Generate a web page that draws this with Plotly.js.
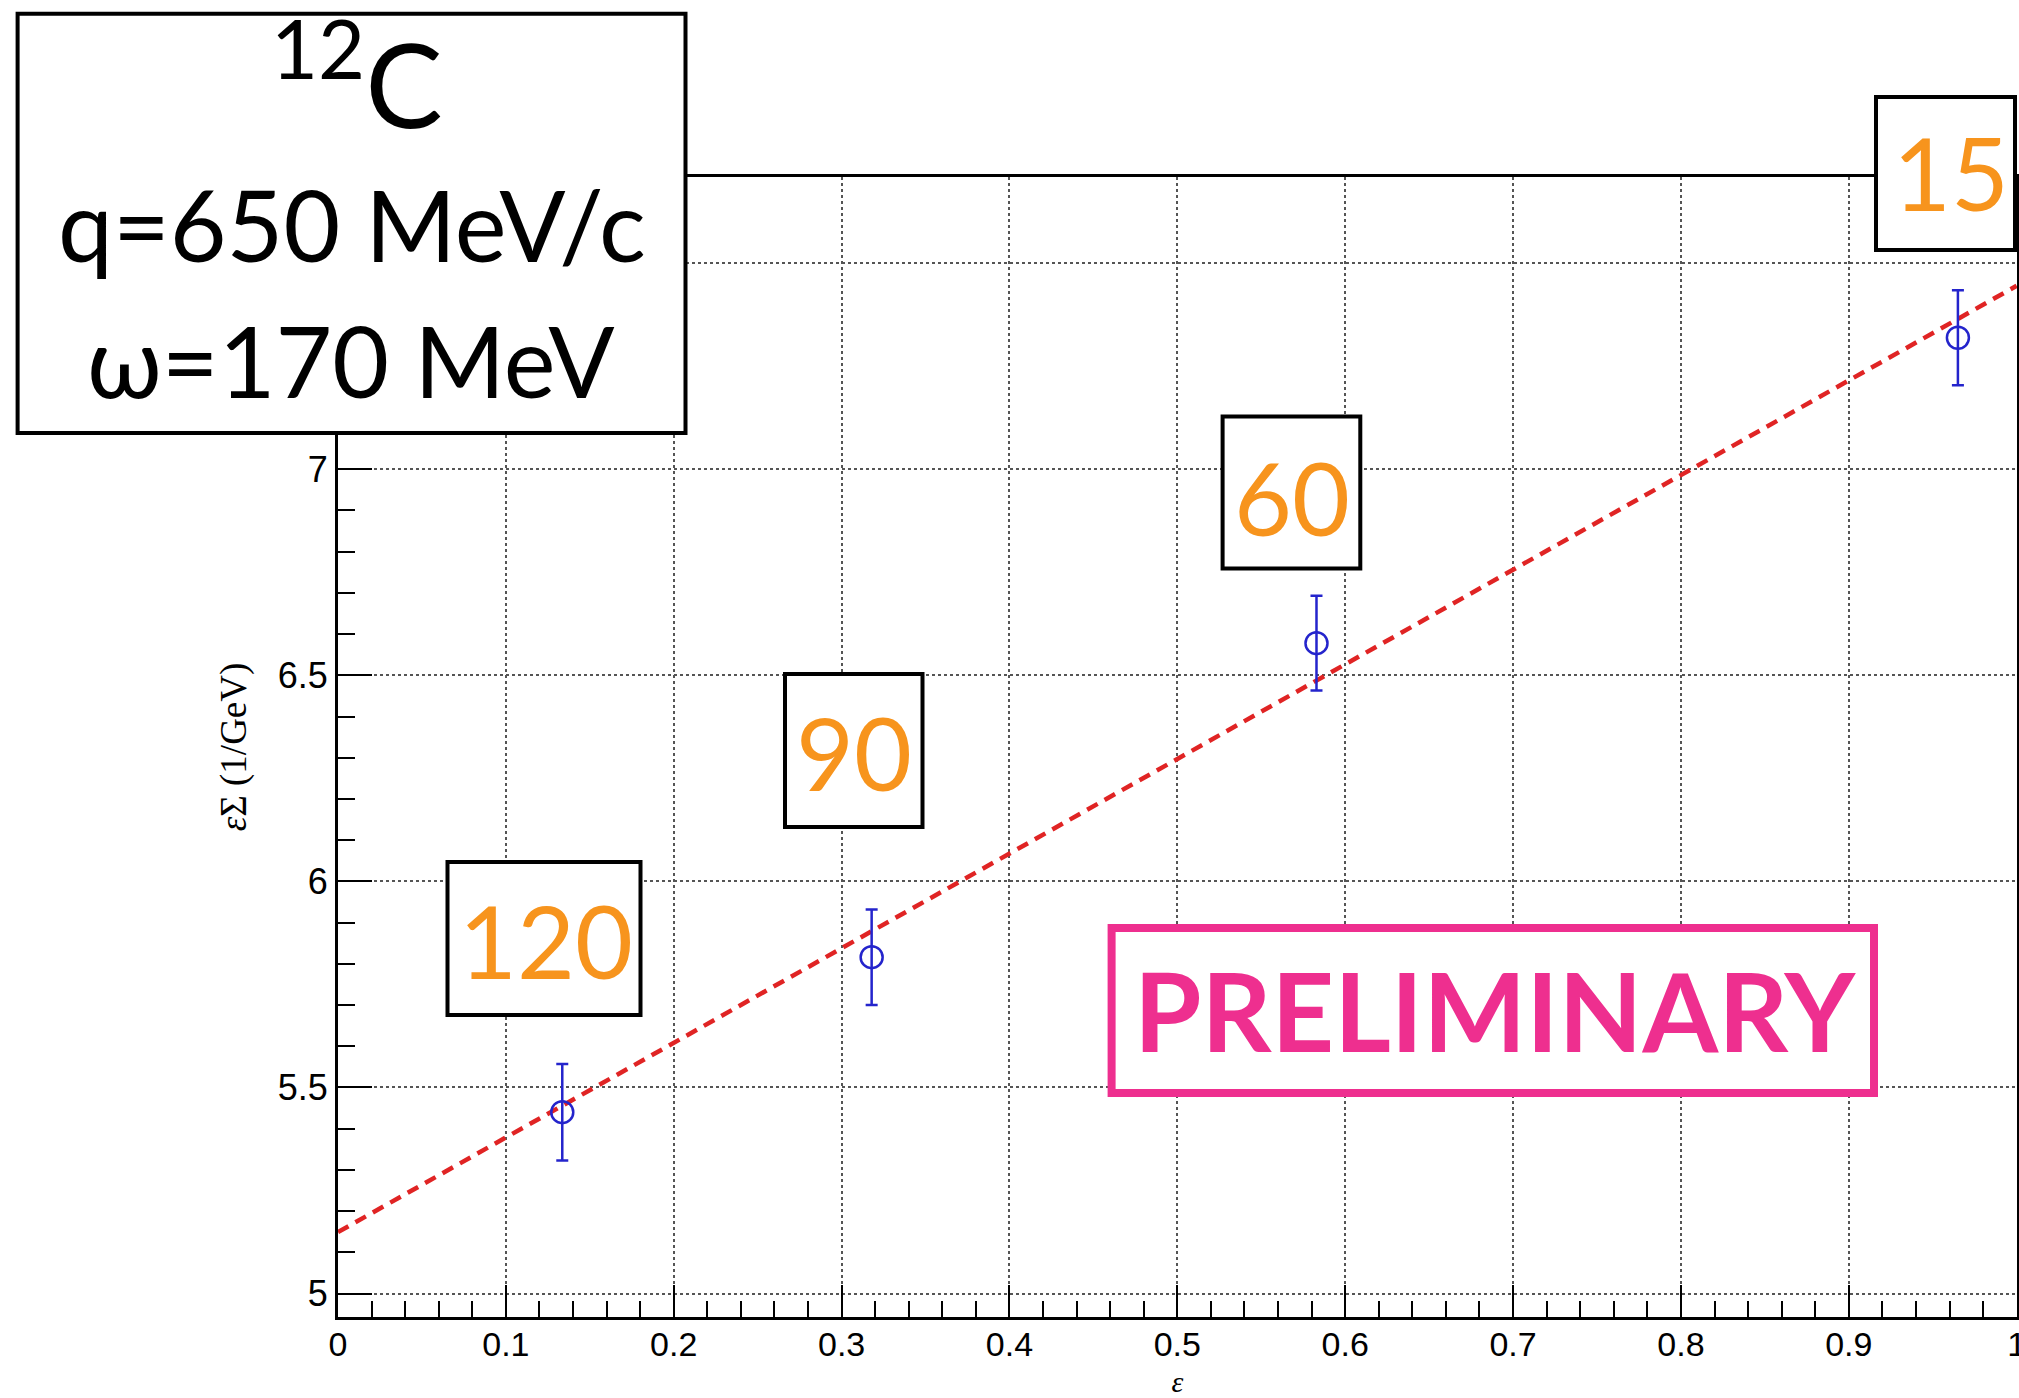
<!DOCTYPE html>
<html>
<head>
<meta charset="utf-8">
<script src="https://cdn.plot.ly/plotly-3.0.1.min.js"></script>
<style>
html,body{margin:0;padding:0;background:#fff;}
#chart{width:2019px;height:1398px;}
</style>
</head>
<body>
<div id="chart"></div>
<script>
// ---- data ----
const epsilon      = [0.1336, 0.3179, 0.5829, 0.965];
const epsSigma     = [5.440, 5.816, 6.578, 7.319];
const epsSigmaErr  = [0.117, 0.116, 0.115, 0.115];
const angleLabels  = ['120', '90', '60', '15'];
const fitEpsilon   = [0, 1];
const fitEpsSigma  = [5.149, 7.445];
const infoLines    = ['<sup>12</sup>C', 'q=650 MeV/c', 'ω=170 MeV'];
const stampText    = 'PRELIMINARY';
const xTitle       = '<i>ε</i>';
const yTitle       = '<i>ε</i>Σ (1/GeV)';
const yTickVals    = [5, 5.5, 6, 6.5, 7, 7.5];
const yTickText    = ['5', '5.5', '6', '6.5', '7', ''];
const xTickVals    = [0, 0.1, 0.2, 0.3, 0.4, 0.5, 0.6, 0.7, 0.8, 0.9, 1];
const xTickText    = ['0', '0.1', '0.2', '0.3', '0.4', '0.5', '0.6', '0.7', '0.8', '0.9', '1'];

// ---- layout geometry (pixels of the 2019x1398 page) ----
const W = 2019, H = 1398, L = 338, R = 2017, T = 177, B = 1317;
const px = v => (v - L) / (R - L);
const py = v => (B - v) / (B - T);

const ORANGE = '#f7941d', PINK = '#ee2f8f', BLUE = '#2424cc', RED = '#e02424';

// boxes for angle labels: [x0,y0,x1,y1] pixel path, text centre [cx,cy]
const angleBoxes = [
  {r: [447.5, 862, 640.5, 1015], c: [546, 940]},
  {r: [785, 674, 922.5, 827],    c: [853.7, 752]},
  {r: [1222.6, 416.6, 1360.3, 568.4], c: [1291.5, 497]},
  {r: [1876, 97, 2015, 250],     c: [1951, 172]}
];
const infoBox = [17.6, 13.7, 685.5, 433];
const infoPos = [[357, 76], [352, 224], [351, 360]];
const infoSize = [116, 98, 98];
const stampBox = [1111.6, 928, 1874, 1093];

const shapes = [];
const annotations = [];

function rect(r, color, width) {
  shapes.push({type: 'rect', xref: 'paper', yref: 'paper', layer: 'above',
    x0: px(r[0]), x1: px(r[2]), y0: py(r[3]), y1: py(r[1]),
    line: {color: color, width: width}, fillcolor: '#ffffff'});
}
function label(text, c, size, color, family) {
  annotations.push({xref: 'paper', yref: 'paper', x: px(c[0]), y: py(c[1]),
    xanchor: 'center', yanchor: 'middle', showarrow: false, text: text,
    font: {family: family, size: size, color: color}});
}

rect(infoBox, '#000', 4);
infoLines.forEach((t, i) => label(t, infoPos[i], infoSize[i], '#000', 'Lato'));

angleLabels.forEach((t, i) => {
  rect(angleBoxes[i].r, '#000', 4);
  label(t, angleBoxes[i].c, 100, ORANGE, 'Lato');
});

rect(stampBox, PINK, 8);
annotations.push({xref: 'paper', yref: 'paper', x: px(1495), y: py(1010),
  xanchor: 'center', yanchor: 'middle', showarrow: false, text: '<b>' + stampText + '</b>',
  font: {family: 'Lato', size: 109, color: PINK}});

const traces = [
  {x: fitEpsilon, y: fitEpsSigma, type: 'scatter', mode: 'lines', hoverinfo: 'skip',
   line: {color: RED, width: 4.5, dash: '12px,8px'}, showlegend: false},
  {x: epsilon, y: epsSigma, type: 'scatter', mode: 'markers', showlegend: false,
   marker: {symbol: 'circle-open', size: 22, color: BLUE, line: {width: 2.5, color: BLUE}},
   error_y: {type: 'data', array: epsSigmaErr, visible: true, color: BLUE, thickness: 2.5, width: 6}}
];

const tickFamily = 'Liberation Sans, Arial, sans-serif';

const layout = {
  width: W, height: H,
  margin: {l: L, r: W - R, t: T, b: H - B, pad: 0},
  paper_bgcolor: '#fff', plot_bgcolor: '#fff',
  showlegend: false,
  xaxis: {
    range: [0, 1.0002], autorange: false,
    tickmode: 'array', tickvals: xTickVals, ticktext: xTickText,
    ticks: 'inside', ticklen: 32, tickwidth: 2, tickcolor: '#000',
    showline: true, linecolor: '#000', linewidth: 3, mirror: true,
    showgrid: true, gridcolor: '#555', gridwidth: 2, griddash: 'dot',
    zeroline: false, tickfont: {family: tickFamily, size: 34, color: '#000'},
    ticklabeloverflow: 'allow', ticklabelstandoff: -5,
    minor: {dtick: 0.02, tick0: 0, ticks: 'inside', ticklen: 16, tickwidth: 2, tickcolor: '#000', showgrid: false},
    title: {text: xTitle, font: {family: 'Liberation Serif, Times New Roman, serif', size: 30, color: '#000'}, standoff: 13},
    automargin: false
  },
  yaxis: {
    range: [4.943, 7.709], autorange: false,
    tickmode: 'array', tickvals: yTickVals, ticktext: yTickText,
    ticks: 'inside', ticklen: 34, tickwidth: 2, tickcolor: '#000',
    showline: true, linecolor: '#000', linewidth: 3, mirror: true,
    showgrid: true, gridcolor: '#555', gridwidth: 2, griddash: 'dot',
    zeroline: false, tickfont: {family: tickFamily, size: 36, color: '#000'},
    minor: {dtick: 0.1, tick0: 5, ticks: 'inside', ticklen: 17, tickwidth: 2, tickcolor: '#000', showgrid: false},
    title: {text: yTitle, font: {family: 'Liberation Serif, Times New Roman, serif', size: 37, color: '#000'}, standoff: 20},
    automargin: false
  },
  shapes: shapes,
  annotations: annotations
};

Plotly.newPlot('chart', traces, layout, {staticPlot: true, displayModeBar: false});
</script>
</body>
</html>
